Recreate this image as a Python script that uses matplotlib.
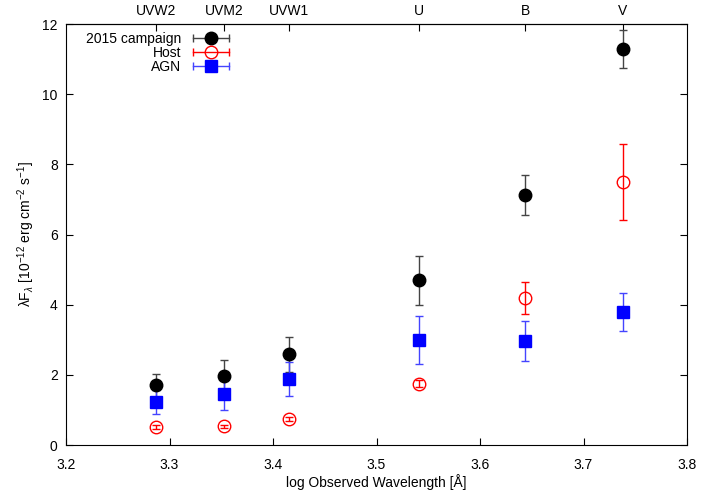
import numpy as np
import matplotlib
matplotlib.use("Agg")
import matplotlib.pyplot as plt
from matplotlib.lines import Line2D
from matplotlib.legend_handler import HandlerLine2D, HandlerTuple

plt.rcParams["font.family"] = ["Liberation Sans", "DejaVu Sans"]
plt.rcParams["mathtext.fontset"] = "custom"
plt.rcParams["mathtext.rm"] = "Liberation Sans"
plt.rcParams["mathtext.it"] = "Liberation Sans:italic"

# Filter positions (log observed wavelength)
filters = ["UVW2", "UVM2", "UVW1", "U", "B", "V"]
log_wave = [3.287, 3.353, 3.415, 3.541, 3.6435, 3.738]

campaign = [1.70, 1.97, 2.59, 4.70, 7.13, 11.29]
campaign_err = [0.33, 0.45, 0.50, 0.70, 0.56, 0.55]

host = [0.51, 0.53, 0.73, 1.74, 4.19, 7.50]
host_err = [0.05, 0.05, 0.06, 0.10, 0.45, 1.08]

agn = [1.23, 1.45, 1.88, 2.99, 2.96, 3.79]
agn_err = [0.34, 0.45, 0.48, 0.69, 0.57, 0.54]

MS = 9

fig = plt.figure(figsize=(7.28, 4.95), dpi=100)
ax = fig.add_axes([0.0907, 0.101, 0.853, 0.8505])

styles = [
    ("2015 campaign", campaign, campaign_err, "o", "black", "black", "#444444"),
    ("Host", host, host_err, "o", "none", "red", "red"),
    ("AGN", agn, agn_err, "s", "blue", "blue", "#4444ff"),
]

handles = []
hmap = {}
for label, vals, errs, mk, fc, ec, barc in styles:
    ax.errorbar(log_wave, vals, yerr=errs, fmt=mk, mfc=fc, mec=ec, mew=1,
                ecolor=barc, elinewidth=1, capsize=3, capthick=1, markersize=MS)
    # legend sample: horizontal bar with caps + marker (gnuplot style)
    bar = Line2D([], [], color=barc, lw=1, marker="|", markersize=6, mew=1)
    dot = Line2D([], [], ls="none", marker=mk, mfc=fc, mec=ec, mew=1, markersize=MS)
    hmap[bar] = HandlerLine2D(numpoints=2)
    hmap[dot] = HandlerLine2D(numpoints=1)
    handles.append((bar, dot))
hmap[tuple] = HandlerTuple(ndivide=1)

ax.legend(handles, [s[0] for s in styles], handler_map=hmap, loc="upper left",
          markerfirst=False, frameon=False, fontsize=10, handlelength=3.2,
          handletextpad=0.5, labelspacing=0.0, borderaxespad=0.2,
          bbox_to_anchor=(0.019, 1.0))

ax.set_xlim(3.2, 3.8)
ax.set_ylim(0, 12)
ax.set_xticks(np.arange(3.2, 3.81, 0.1))
ax.set_yticks(np.arange(0, 12.1, 2))
ax.tick_params(direction="in", length=5, labelsize=10, right=True, top=False)
ax.tick_params(axis="x", pad=9)
ax.tick_params(axis="y", pad=6)

top = ax.secondary_xaxis("top")
top.set_xticks(log_wave)
top.set_xticklabels(filters)
top.tick_params(direction="in", length=5, labelsize=10, pad=4)

ax.set_xlabel("log Observed Wavelength [Å]", fontsize=10, labelpad=2)
ax.set_ylabel(r"λF$_{\lambda}$ [10$^{-12}$ erg cm$^{-2}$ s$^{-1}$]", fontsize=10, labelpad=4)

fig.savefig("out.png", dpi=100)
